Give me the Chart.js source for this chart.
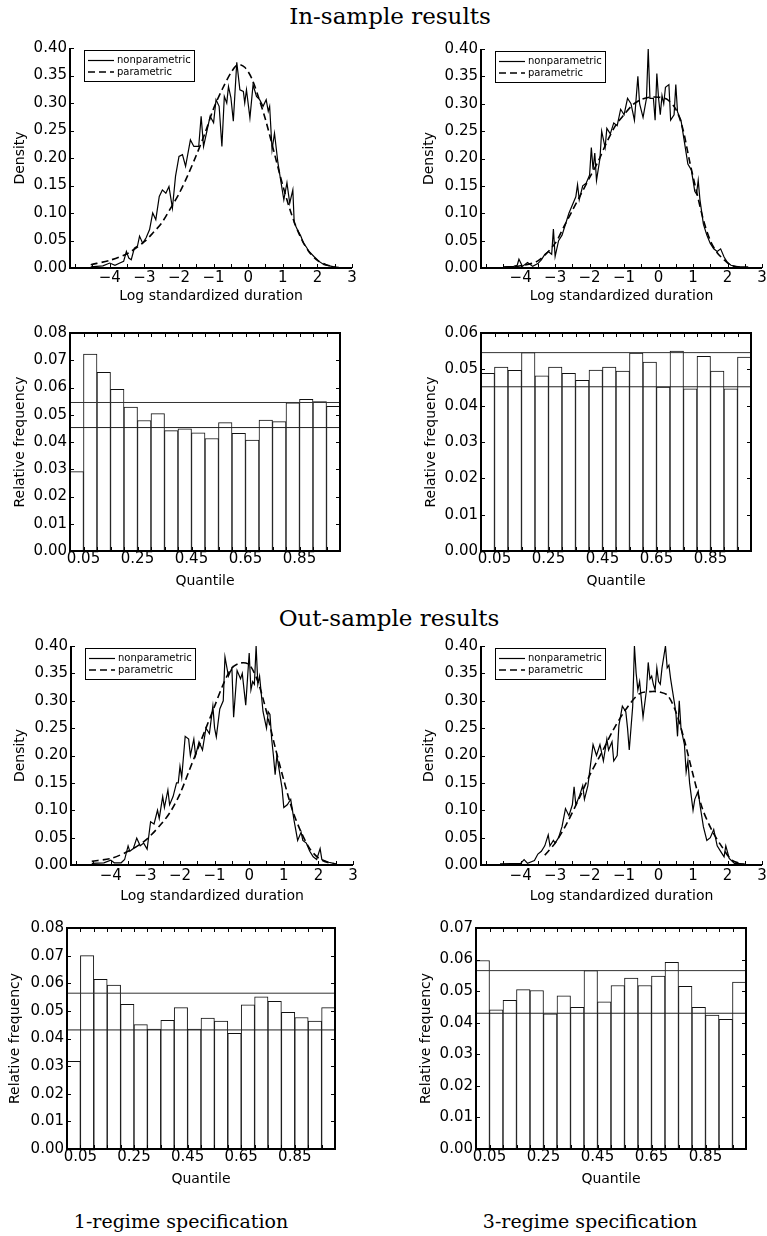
<!DOCTYPE html>
<html>
<head>
<meta charset="utf-8">
<script src="https://cdn.jsdelivr.net/npm/chart.js@4.4.0/dist/chart.umd.min.js"></script>
<style>
  html, body { margin: 0; padding: 0; background: #fff; }
  body { width: 767px; height: 1236px; position: relative; overflow: hidden; }
  .ttl { position: absolute; font-family: "DejaVu Serif", serif; color: #000; white-space: nowrap; transform: translateX(-50%); line-height: 1; }
  canvas { position: absolute; }
</style>
</head>
<body>
<div class="ttl" style="left:390px; top:5px; font-size:23px;">In-sample results</div>
<div class="ttl" style="left:389px; top:607px; font-size:23px;">Out-sample results</div>
<div class="ttl" style="left:181px; top:1212px; font-size:19px;">1-regime specification</div>
<div class="ttl" style="left:590px; top:1212px; font-size:19px;">3-regime specification</div>
<script>
// ---------------- DATA ----------------
// Density axes
const densityXLabels = [-4, -3, -2, -1, 0, 1, 2, 3];
const densityXMinor = [-5, -4.5, -4, -3.5, -3, -2.5, -2, -1.5, -1, -0.5, 0, 0.5, 1, 1.5, 2, 2.5, 3];
const densityYTicks = [0, 0.05, 0.10, 0.15, 0.20, 0.25, 0.30, 0.35, 0.40];

// In-sample, 1-regime: nonparametric density
const in1NpX = [-4.55,-4.2,-4.0,-3.85,-3.71,-3.6,-3.52,-3.45,-3.38,-3.29,-3.2,-3.14,-3.05,-2.95,-2.85,-2.76,-2.67,-2.57,-2.48,-2.38,-2.29,-2.19,-2.1,-2.0,-1.9,-1.81,-1.67,-1.57,-1.43,-1.36,-1.29,-1.19,-1.1,-1.0,-0.93,-0.84,-0.76,-0.69,-0.62,-0.57,-0.5,-0.43,-0.33,-0.24,-0.14,-0.1,-0.05,0.05,0.14,0.24,0.33,0.43,0.52,0.58,0.62,0.69,0.76,0.86,0.95,1.03,1.12,1.2,1.29,1.33,1.42,1.52,1.6,1.67,1.76,1.9,2.05,2.19,2.48,2.62];
const in1NpY = [0.002,0.004,0.009,0.005,0.009,0.012,0.03,0.018,0.015,0.036,0.04,0.058,0.045,0.055,0.07,0.1,0.088,0.13,0.142,0.136,0.148,0.109,0.167,0.203,0.206,0.185,0.233,0.221,0.221,0.276,0.221,0.25,0.276,0.264,0.306,0.294,0.221,0.312,0.3,0.33,0.31,0.267,0.374,0.324,0.321,0.3,0.324,0.273,0.333,0.312,0.306,0.294,0.306,0.285,0.294,0.215,0.245,0.191,0.155,0.124,0.155,0.118,0.142,0.082,0.07,0.058,0.045,0.039,0.03,0.021,0.012,0.006,0.002,0.001];
// In-sample, 1-regime: parametric density
const in1ParX = [-4.55,-4.0,-3.5,-3.0,-2.75,-2.5,-2.25,-2.0,-1.75,-1.5,-1.25,-1.0,-0.75,-0.5,-0.3,-0.1,0.1,0.3,0.5,0.75,1.0,1.25,1.5,1.75,2.0,2.25,2.5];
const in1ParY = [0.006,0.014,0.026,0.048,0.064,0.082,0.108,0.135,0.168,0.205,0.245,0.29,0.325,0.355,0.37,0.365,0.345,0.31,0.27,0.21,0.15,0.098,0.058,0.03,0.014,0.006,0.002];

// In-sample, 3-regime: nonparametric density
const in3NpX = [-4.5,-4.2,-4.1,-4.05,-3.95,-3.8,-3.65,-3.5,-3.4,-3.3,-3.2,-3.1,-3.05,-3.0,-2.9,-2.8,-2.7,-2.6,-2.5,-2.4,-2.35,-2.3,-2.2,-2.1,-2.0,-1.95,-1.9,-1.85,-1.8,-1.7,-1.65,-1.55,-1.5,-1.4,-1.3,-1.2,-1.1,-1.0,-0.9,-0.8,-0.7,-0.6,-0.55,-0.45,-0.35,-0.3,-0.25,-0.15,-0.1,-0.05,0.0,0.05,0.1,0.15,0.2,0.3,0.35,0.45,0.5,0.55,0.65,0.75,0.85,0.95,1.0,1.05,1.1,1.15,1.2,1.3,1.4,1.5,1.6,1.7,1.8,1.9,2.0,2.1,2.3,2.6];
const in3NpY = [0.002,0.003,0.005,0.016,0.003,0.01,0.003,0.008,0.015,0.025,0.03,0.025,0.071,0.021,0.05,0.06,0.08,0.1,0.115,0.13,0.152,0.125,0.15,0.155,0.17,0.22,0.18,0.21,0.16,0.2,0.25,0.22,0.255,0.245,0.265,0.26,0.29,0.28,0.31,0.3,0.27,0.35,0.3,0.275,0.31,0.4,0.31,0.31,0.27,0.355,0.31,0.28,0.315,0.3,0.33,0.335,0.27,0.28,0.335,0.285,0.27,0.23,0.19,0.179,0.16,0.14,0.135,0.16,0.125,0.08,0.06,0.045,0.035,0.03,0.035,0.02,0.01,0.005,0.002,0.002];
// In-sample, 3-regime: parametric density
const in3ParX = [-4.5,-4.0,-3.5,-3.0,-2.75,-2.5,-2.25,-2.0,-1.75,-1.5,-1.25,-1.0,-0.75,-0.5,-0.25,0.0,0.25,0.5,0.7,0.9,1.1,1.3,1.5,1.7,1.9,2.1,2.4];
const in3ParY = [0.001,0.004,0.013,0.045,0.075,0.105,0.135,0.165,0.195,0.23,0.26,0.28,0.298,0.308,0.312,0.312,0.308,0.29,0.255,0.195,0.14,0.088,0.05,0.028,0.015,0.005,0.001];

// Out-sample, 1-regime: nonparametric density
const out1NpX = [-4.55,-4.2,-4.0,-3.9,-3.7,-3.6,-3.5,-3.45,-3.35,-3.25,-3.15,-3.05,-2.95,-2.85,-2.75,-2.65,-2.6,-2.5,-2.45,-2.35,-2.3,-2.2,-2.1,-2.05,-2.0,-1.95,-1.85,-1.75,-1.7,-1.6,-1.55,-1.45,-1.35,-1.25,-1.15,-1.05,-1.0,-0.95,-0.85,-0.75,-0.7,-0.6,-0.5,-0.45,-0.35,-0.25,-0.2,-0.1,0.0,0.05,0.1,0.15,0.2,0.25,0.3,0.4,0.5,0.55,0.6,0.65,0.7,0.75,0.8,0.85,0.95,1.0,1.1,1.2,1.3,1.4,1.5,1.55,1.65,1.75,1.85,1.95,2.05,2.1,2.3,2.5];
const out1NpY = [0.003,0.004,0.009,0.004,0.004,0.01,0.035,0.025,0.03,0.049,0.035,0.04,0.029,0.079,0.075,0.1,0.085,0.125,0.105,0.137,0.11,0.125,0.15,0.15,0.18,0.16,0.235,0.23,0.2,0.23,0.2,0.225,0.21,0.25,0.24,0.29,0.25,0.234,0.285,0.3,0.38,0.345,0.36,0.27,0.355,0.34,0.35,0.292,0.387,0.32,0.335,0.33,0.4,0.33,0.345,0.28,0.25,0.28,0.275,0.23,0.2,0.165,0.2,0.18,0.14,0.105,0.11,0.12,0.08,0.045,0.06,0.045,0.04,0.025,0.015,0.01,0.03,0.01,0.005,0.002];
// Out-sample, 1-regime: parametric density
const out1ParX = [-4.55,-4.0,-3.5,-3.0,-2.5,-2.25,-2.0,-1.75,-1.5,-1.25,-1.0,-0.75,-0.5,-0.25,0.0,0.25,0.5,0.75,1.0,1.25,1.5,1.75,2.0,2.25,2.5];
const out1ParY = [0.007,0.012,0.025,0.045,0.078,0.1,0.13,0.17,0.21,0.25,0.29,0.33,0.36,0.369,0.366,0.335,0.28,0.215,0.155,0.1,0.06,0.03,0.013,0.005,0.002];

// Out-sample, 3-regime: nonparametric density
const out3NpX = [-4.6,-4.0,-3.9,-3.8,-3.6,-3.5,-3.4,-3.3,-3.2,-3.15,-3.05,-3.0,-2.9,-2.8,-2.7,-2.6,-2.5,-2.45,-2.4,-2.3,-2.2,-2.15,-2.05,-2.0,-1.9,-1.85,-1.8,-1.7,-1.6,-1.5,-1.45,-1.35,-1.3,-1.2,-1.15,-1.05,-0.95,-0.9,-0.85,-0.75,-0.7,-0.65,-0.6,-0.55,-0.45,-0.35,-0.3,-0.25,-0.2,-0.15,-0.1,-0.05,0.0,0.05,0.1,0.2,0.25,0.3,0.35,0.4,0.5,0.55,0.6,0.65,0.75,0.8,0.85,0.9,1.0,1.05,1.15,1.2,1.3,1.4,1.5,1.6,1.7,1.8,1.9,1.95,2.05,2.2,2.5];
const out3NpY = [0.002,0.003,0.01,0.003,0.008,0.02,0.025,0.035,0.055,0.035,0.045,0.04,0.05,0.07,0.103,0.09,0.11,0.143,0.11,0.125,0.145,0.12,0.145,0.17,0.22,0.21,0.2,0.22,0.19,0.23,0.21,0.225,0.19,0.2,0.255,0.29,0.28,0.25,0.21,0.29,0.4,0.35,0.32,0.335,0.27,0.32,0.37,0.34,0.345,0.33,0.32,0.36,0.335,0.33,0.36,0.4,0.36,0.365,0.34,0.32,0.28,0.235,0.3,0.25,0.22,0.17,0.19,0.15,0.1,0.12,0.135,0.11,0.07,0.045,0.05,0.065,0.035,0.025,0.015,0.035,0.012,0.003,0.002];
// Out-sample, 3-regime: parametric density
const out3ParX = [-3.3,-3.0,-2.66,-2.28,-1.99,-1.61,-1.32,-0.94,-0.55,-0.17,0.02,0.26,0.5,0.74,0.98,1.26,1.55,1.84,2.12,2.4];
const out3ParY = [0.018,0.04,0.076,0.125,0.165,0.21,0.246,0.285,0.313,0.317,0.316,0.31,0.28,0.23,0.17,0.105,0.063,0.033,0.009,0.002];

// Histograms of PIT quantiles (20 bins)
const quantileBins = [0.025,0.075,0.125,0.175,0.225,0.275,0.325,0.375,0.425,0.475,0.525,0.575,0.625,0.675,0.725,0.775,0.825,0.875,0.925,0.975];
const quantileLabels = [0.05, 0.25, 0.45, 0.65, 0.85];
const in1Hist  = [0.0291,0.0723,0.0656,0.0593,0.0528,0.0479,0.0504,0.0442,0.0448,0.0434,0.0413,0.0471,0.0432,0.0407,0.0480,0.0475,0.0544,0.0557,0.0548,0.0531];
const in3Hist  = [0.0489,0.0506,0.0497,0.0546,0.0482,0.0506,0.0489,0.0470,0.0498,0.0506,0.0495,0.0545,0.0520,0.0451,0.0550,0.0446,0.0536,0.0495,0.0446,0.0534];
const out1Hist = [0.0317,0.0700,0.0614,0.0593,0.0524,0.0450,0.0434,0.0466,0.0512,0.0434,0.0474,0.0463,0.0419,0.0522,0.0551,0.0535,0.0495,0.0476,0.0463,0.0512];
const out3Hist = [0.0597,0.0441,0.0471,0.0505,0.0502,0.0428,0.0485,0.0449,0.0565,0.0466,0.0518,0.0541,0.0518,0.0548,0.0591,0.0515,0.0449,0.0424,0.0411,0.0529];
const in1Band  = [0.0453, 0.0545];
const in3Band  = [0.0452, 0.0546];
const out1Band = [0.0431, 0.0564];
const out3Band = [0.0430, 0.0565];
const histYTicks8 = [0,0.01,0.02,0.03,0.04,0.05,0.06,0.07,0.08];
const histYTicks6 = [0,0.01,0.02,0.03,0.04,0.05,0.06];
const histYTicks7 = [0,0.01,0.02,0.03,0.04,0.05,0.06,0.07];

// ---------------- RENDERING ----------------
Chart.defaults.font.family = "'DejaVu Sans', sans-serif";
Chart.defaults.font.size = 15;
Chart.defaults.color = '#000';

const fmtX = v => (v < 0 ? '\u2212' + Math.abs(v) : String(v));

const framePlugin = {
  id: 'frame',
  afterDatasetsDraw(chart, args, opts) {
    const { ctx, chartArea: a, scales: { x, y } } = chart;
    const tl = 4;
    ctx.save();
    ctx.strokeStyle = '#000';
    ctx.lineWidth = 1;
    ctx.beginPath();
    if (opts.kind === 'density') {
      opts.yTicks.forEach(v => { const py = Math.round(y.getPixelForValue(v)) + 0.5; ctx.moveTo(a.left, py); ctx.lineTo(a.left + tl, py); });
      opts.xTicks.forEach(v => { const px = Math.round(x.getPixelForValue(v)) + 0.5; ctx.moveTo(px, a.bottom); ctx.lineTo(px, a.bottom - tl); });
    } else {
      opts.yTicks.forEach(v => { const py = Math.round(y.getPixelForValue(v)) + 0.5; ctx.moveTo(a.left, py); ctx.lineTo(a.left + tl, py); ctx.moveTo(a.right, py); ctx.lineTo(a.right - tl, py); });
      opts.xTicks.forEach(v => { const px = Math.round(x.getPixelForValue(v)) + 0.5; ctx.moveTo(px, a.bottom); ctx.lineTo(px, a.bottom - tl); ctx.moveTo(px, a.top); ctx.lineTo(px, a.top + tl); });
    }
    ctx.stroke();
    ctx.lineWidth = 2;
    ctx.beginPath();
    if (opts.kind === 'density') {
      ctx.moveTo(a.left, a.top);
      ctx.lineTo(a.left, a.bottom);
      ctx.lineTo(a.right, a.bottom);
    } else {
      ctx.rect(a.left, a.top, a.right - a.left, a.bottom - a.top);
    }
    ctx.stroke();
    // legend box for density panels
    if (opts.kind === 'density') {
      const lx = a.left + 14, ly = a.top + 2, lw = 110, lh = 31;
      ctx.fillStyle = '#fff';
      ctx.fillRect(lx, ly, lw, lh);
      ctx.lineWidth = 1;
      ctx.strokeRect(lx + 0.5, ly + 0.5, lw, lh);
      const ds = chart.data.datasets;
      ctx.font = "10px 'DejaVu Sans', sans-serif";
      ctx.fillStyle = '#000';
      ctx.textBaseline = 'middle';
      [ds[0], ds[1]].forEach((d, i) => {
        const yy = ly + 10.5 + i * 11.5;
        ctx.beginPath();
        ctx.lineWidth = d.borderWidth;
        ctx.setLineDash(d.borderDash || []);
        ctx.moveTo(lx + 4, yy);
        ctx.lineTo(lx + 30, yy);
        ctx.stroke();
        ctx.setLineDash([]);
        ctx.fillText(d.label, lx + 33, yy);
      });
    }
    ctx.restore();
  }
};

function pts(xs, ys) { return xs.map((x, i) => ({ x: x, y: ys[i] })); }

function makeChart(p) {
  const [cx, cy, cw, ch] = p.rect;
  const [L, T, R, B] = p.ca;
  const canvas = document.createElement('canvas');
  canvas.width = cw; canvas.height = ch;
  canvas.style.left = cx + 'px'; canvas.style.top = cy + 'px';
  canvas.style.width = cw + 'px'; canvas.style.height = ch + 'px';
  document.body.appendChild(canvas);
  const yW = L - cx, xH = cy + ch - B;
  const half = 14 * 1.2 / 2;
  const tickHalf = 15 * 1.2 / 2;
  const xTitlePad = xH - p.xTitleDy - half;
  const yTitlePad = (L + p.yTitleDx) - cx - half;

  let datasets, xScale, yTickVals, xTickVals, minorX;
  if (p.kind === 'density') {
    datasets = [
      { type: 'line', label: 'nonparametric', data: pts(p.np[0], p.np[1]), borderColor: '#000', borderWidth: 1.2, pointRadius: 0, tension: 0, fill: false },
      { type: 'line', label: 'parametric', data: pts(p.par[0], p.par[1]), borderColor: '#000', borderWidth: 1.6, borderDash: [7, 4], pointRadius: 0, tension: 0.3, fill: false }
    ];
    xScale = { min: -5.15, max: 3 };
    xTickVals = densityXLabels; minorX = densityXMinor; yTickVals = densityYTicks;
  } else {
    datasets = [
      { type: 'line', data: [{ x: 0, y: p.band[0] }, { x: 1, y: p.band[0] }], borderColor: '#222', borderWidth: 1, pointRadius: 0 },
      { type: 'line', data: [{ x: 0, y: p.band[1] }, { x: 1, y: p.band[1] }], borderColor: '#333', borderWidth: 1, pointRadius: 0 },
      { type: 'bar', data: pts(quantileBins, p.hist), backgroundColor: '#fff', borderColor: '#111', borderWidth: 1, barPercentage: 1, categoryPercentage: 1, borderSkipped: 'start' }
    ];
    xScale = { min: 0, max: 1 };
    xTickVals = quantileLabels;
    minorX = quantileBins.slice(0, -1).map((c, i) => (c + quantileBins[i + 1]) / 2);
    yTickVals = p.yTicks;
  }
  new Chart(canvas, {
    type: p.kind === 'density' ? 'line' : 'bar',
    data: { datasets },
    options: {
      responsive: false, animation: false, events: [],
      layout: { padding: { top: T - cy, right: cx + cw - R, left: 0, bottom: 0 } },
      plugins: { legend: { display: false }, tooltip: { enabled: false },
        frame: { kind: p.kind, xTicks: minorX, yTicks: yTickVals } },
      scales: {
        x: {
          type: 'linear', min: xScale.min, max: xScale.max, offset: false,
          grid: { display: false, drawTicks: false }, border: { display: false },
          ticks: { autoSkip: false, maxRotation: 0, padding: p.xTickPad + 8.4 - tickHalf, color: '#000',
            callback: v => p.kind === 'density' ? fmtX(v) : v.toFixed(2) },
          afterBuildTicks: s => { s.ticks = xTickVals.map(v => ({ value: v })); },
          afterFit: s => { s.height = xH; s.paddingLeft = 0; s.paddingRight = 0; },
          title: { display: true, text: p.xTitle, color: '#000', font: { size: 14 }, padding: { top: 0, bottom: xTitlePad } }
        },
        y: {
          type: 'linear', min: 0, max: yTickVals[yTickVals.length - 1],
          grid: { display: false, drawTicks: false }, border: { display: false },
          ticks: { padding: 3, color: '#000', callback: v => v.toFixed(2) },
          afterBuildTicks: s => { s.ticks = yTickVals.map(v => ({ value: v })); },
          afterFit: s => { s.width = yW; s.paddingTop = 0; s.paddingBottom = 0; },
          title: { display: true, text: p.yTitle, color: '#000', font: { size: 14 }, padding: { top: yTitlePad, bottom: 0 } }
        }
      }
    },
    plugins: [framePlugin]
  });
}

const DX = 'Log standardized duration', QX = 'Quantile';
const panels = [
  { kind: 'density', rect: [0, 36, 384, 274], ca: [70, 48, 352, 268], xTitle: DX, yTitle: 'Density', xTitleDy: 28, yTitleDx: -50, xTickPad: 2, np: [in1NpX, in1NpY], par: [in1ParX, in1ParY] },
  { kind: 'density', rect: [384, 36, 383, 274], ca: [481, 49, 762, 268], xTitle: DX, yTitle: 'Density', xTitleDy: 28, yTitleDx: -52, xTickPad: 2, np: [in3NpX, in3NpY], par: [in3ParX, in3ParY] },
  { kind: 'hist', rect: [0, 318, 384, 272], ca: [70, 333, 340, 551], xTitle: QX, yTitle: 'Relative frequency', xTitleDy: 30, yTitleDx: -50, xTickPad: 0, hist: in1Hist, band: in1Band, yTicks: histYTicks8 },
  { kind: 'hist', rect: [384, 318, 383, 272], ca: [481, 333, 751, 551], xTitle: QX, yTitle: 'Relative frequency', xTitleDy: 30, yTitleDx: -50, xTickPad: 0, hist: in3Hist, band: in3Band, yTicks: histYTicks6 },
  { kind: 'density', rect: [0, 630, 384, 280], ca: [71, 646, 353, 865], xTitle: DX, yTitle: 'Density', xTitleDy: 31, yTitleDx: -51, xTickPad: 3, np: [out1NpX, out1NpY], par: [out1ParX, out1ParY] },
  { kind: 'density', rect: [384, 630, 383, 280], ca: [481, 646, 762, 865], xTitle: DX, yTitle: 'Density', xTitleDy: 31, yTitleDx: -52, xTickPad: 3, np: [out3NpX, out3NpY], par: [out3ParX, out3ParY] },
  { kind: 'hist', rect: [0, 914, 384, 276], ca: [67, 928, 335, 1149], xTitle: QX, yTitle: 'Relative frequency', xTitleDy: 30, yTitleDx: -52, xTickPad: 0, hist: out1Hist, band: out1Band, yTicks: histYTicks8 },
  { kind: 'hist', rect: [384, 914, 383, 276], ca: [476, 928, 746, 1149], xTitle: QX, yTitle: 'Relative frequency', xTitleDy: 30, yTitleDx: -50, xTickPad: 0, hist: out3Hist, band: out3Band, yTicks: histYTicks7 }
];
panels.forEach(makeChart);
</script>
</body>
</html>
